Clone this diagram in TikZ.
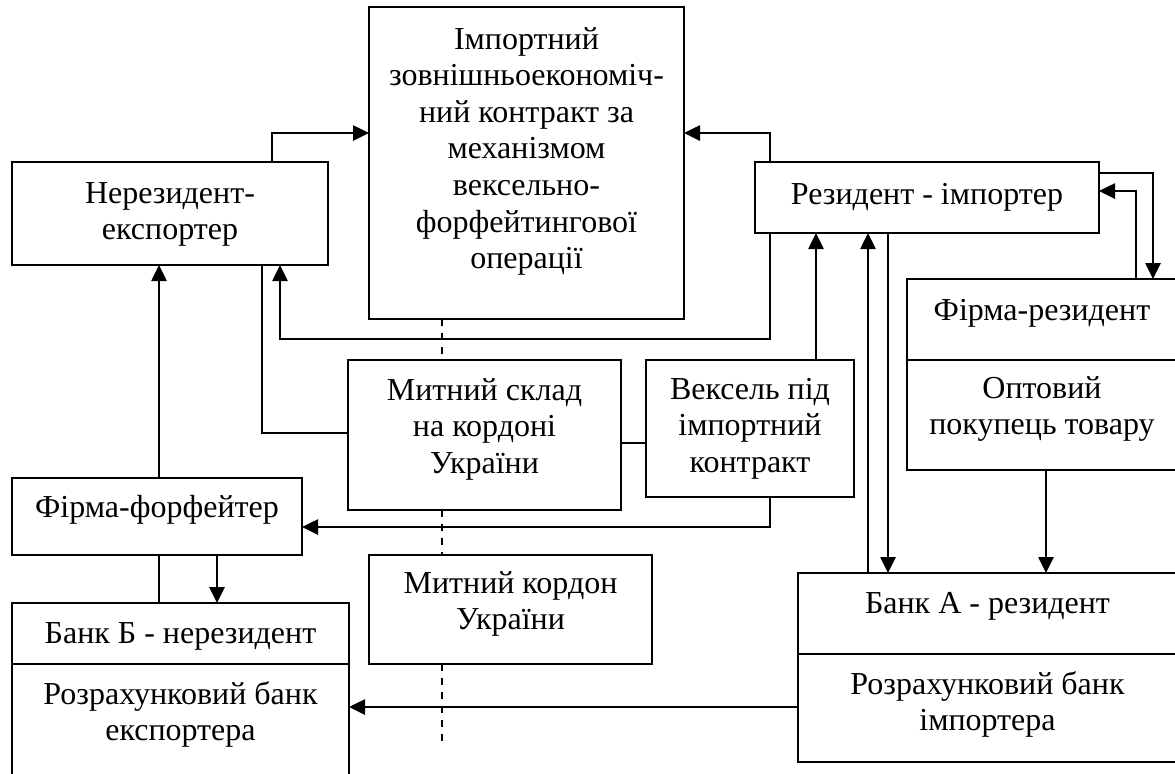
\documentclass[tikz,border=0pt]{standalone}
\usepackage{fontspec}
\setmainfont{Liberation Serif}
\usetikzlibrary{arrows.meta}
\newcommand{\mlines}[1]{\begin{tabular}[t]{@{}c@{}}#1\end{tabular}}
\tikzset{
  box/.style={draw, line width=1pt, inner sep=0pt, outer sep=0pt},
  txt/.style={inner sep=0pt, outer sep=0pt, anchor=base, font=\fontsize{16}{18.3}\selectfont},
  arr/.style={line width=1.3pt, -{Triangle[length=8pt,width=7.5pt]}},
  plain/.style={line width=1.1pt},
  thinline/.style={line width=0.75pt},
  border/.style={line width=0.75pt, dash pattern=on 3.5pt off 3.5pt}
}
\begin{document}
\begin{tikzpicture}[x=0.5pt,y=-0.5pt]
\useasboundingbox (0,0) rectangle (1175,773);
% boxes
\node[box, minimum width=157.5pt, minimum height=156pt] (imp) at (526.5,163) {};
\node[box, minimum width=158pt, minimum height=51.5pt] (nerez) at (170,213.5) {};
\node[box, minimum width=172pt, minimum height=35.5pt] (rez) at (927,197.5) {};
\node[box, minimum width=135pt, minimum height=40.5pt] (firma) at (1042,319.5) {};
\node[box, minimum width=135pt, minimum height=55pt] (opt) at (1042,415) {};
\node[box, minimum width=136.5pt, minimum height=75pt] (sklad) at (484.5,435) {};
\node[box, minimum width=104pt, minimum height=68.5pt] (veks) at (750,428.5) {};
\node[box, minimum width=145pt, minimum height=38.5pt] (forf) at (157,516.5) {};
\node[box, minimum width=168.5pt, minimum height=30.5pt] (bankB) at (180.5,633.5) {};
\node[box, minimum width=168.5pt, minimum height=58pt] (rozrB) at (180.5,722) {};
\node[box, minimum width=141.5pt, minimum height=54.5pt] (kordon) at (510.5,609.5) {};
\node[box, minimum width=189.5pt, minimum height=40.5pt] (bankA) at (987.5,613.5) {};
\node[box, minimum width=189.5pt, minimum height=54pt] (rozrA) at (987.5,708) {};
% texts
\node[txt] (timp) at (526.5,49) {\mlines{Імпортний\\зовнішньоекономіч-\\ний контракт за\\механізмом\\вексельно-\\форфейтингової\\операції}};
\node[txt] (tnerez) at (170,203) {\mlines{Нерезидент-\\експортер}};
\node[txt] (trez) at (927,204) {Резидент - імпортер};
\node[txt] (tfirma) at (1042,320) {Фірма-резидент};
\node[txt] (topt) at (1042,398) {\mlines{Оптовий\\покупець товару}};
\node[txt] (tsklad) at (484.5,400) {\mlines{Митний склад\\на кордоні\\України}};
\node[txt] (tveks) at (750,399) {\mlines{Вексель під\\імпортний\\контракт}};
\node[txt] (tforf) at (157,517) {Фірма-форфейтер};
\node[txt] (tbankB) at (180.5,643) {Банк Б - нерезидент};
\node[txt] (trozrB) at (180.5,704) {\mlines{Розрахунковий банк\\експортера}};
\node[txt] (tkordon) at (510.5,593) {\mlines{Митний кордон\\України}};
\node[txt] (tbankA) at (987.5,613) {Банк А - резидент};
\node[txt] (trozrA) at (987.5,694) {\mlines{Розрахунковий банк\\імпортера}};
% helper coordinates
\coordinate (kA) at (272,133);
\coordinate (kB) at (770,133);
\coordinate (kC) at (770,339);
\coordinate (kC2) at (280,339);
\coordinate (kD) at (262,433);
\coordinate (kE) at (159,0);
\coordinate (kF) at (217,0);
\coordinate (kG) at (770,527);
\coordinate (kH) at (0,443);
\coordinate (kI) at (816,0);
\coordinate (kJ) at (868,0);
\coordinate (kK) at (888,0);
\coordinate (kL) at (1046,0);
\coordinate (kM) at (1153,173);
\coordinate (kN) at (1136,191);
\coordinate (kO) at (0,707);
\coordinate (kP) at (442,741);
% connectors
\draw[arr] (kA |- nerez.north) |- (imp.west |- kA);
\draw[arr] (kB |- rez.north) |- (imp.east |- kB);
\draw[arr] (kC |- rez.south) -- (kC) -- (kC2) -- (kC2 |- nerez.south);
\draw[thinline] (kD |- nerez.south) |- (sklad.west |- kD);
\draw[arr] (kE |- forf.north) -- (kE |- nerez.south);
\draw[plain] (kE |- forf.south) -- (kE |- bankB.north);
\draw[arr] (kF |- forf.south) -- (kF |- bankB.north);
\draw[arr] (kG |- veks.south) |- (forf.east |- kG);
\draw[thinline] (sklad.east |- kH) -- (veks.west |- kH);
\draw[arr] (kI |- veks.north) -- (kI |- rez.south);
\draw[arr] (kJ |- bankA.north) -- (kJ |- rez.south);
\draw[arr] (kK |- rez.south) -- (kK |- bankA.north);
\draw[arr] (kL |- opt.south) -- (kL |- bankA.north);
\draw[arr] (rez.east |- kM) -| (kM |- firma.north);
\draw[arr] (kN |- firma.north) |- (rez.east |- kN);
\draw[arr] (rozrA.west |- kO) -- (rozrB.east |- kO);
% customs border (dashed)
\draw[border] (kP |- imp.south) -- (kP |- sklad.north);
\draw[border] (kP |- sklad.south) -- (kP |- kordon.north);
\draw[border] (kP |- kordon.south) -- (kP);
\end{tikzpicture}
\end{document}
